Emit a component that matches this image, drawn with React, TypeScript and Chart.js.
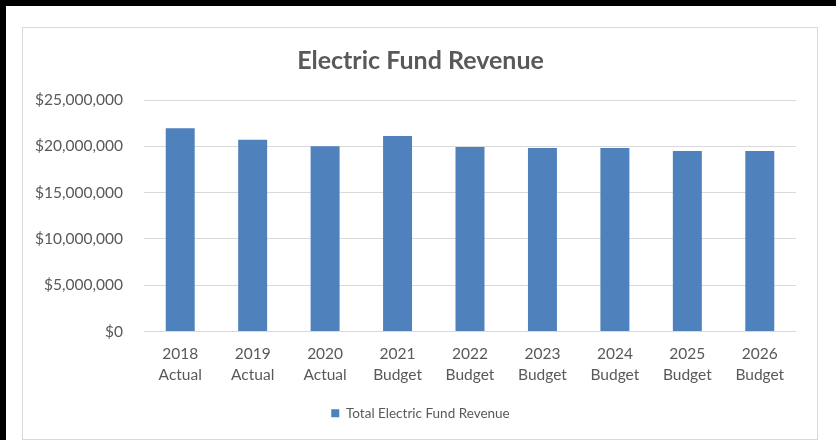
import React, { useEffect, useRef } from "react";
import { Chart, registerables } from "chart.js";

Chart.register(...registerables);

const categories: string[][] = [
  ["2018", "Actual"],
  ["2019", "Actual"],
  ["2020", "Actual"],
  ["2021", "Budget"],
  ["2022", "Budget"],
  ["2023", "Budget"],
  ["2024", "Budget"],
  ["2025", "Budget"],
  ["2026", "Budget"],
];
const revenue: number[] = [
  21960000, 20720000, 20000000, 21100000, 19930000, 19820000, 19820000, 19500000, 19500000,
];
const seriesName = "Total Electric Fund Revenue";
const chartTitle = "Electric Fund Revenue";
const yMin = 0;
const yMax = 25000000;
const yStep = 5000000;

const FONT = "Lato, 'Open Sans', sans-serif";
const TEXT = "#595959";

export default function App() {
  const ref = useRef<HTMLCanvasElement | null>(null);
  useEffect(() => {
    document.body.style.margin = "0";
    const canvas = ref.current;
    if (!canvas) return;
    const chart = new Chart(canvas, {
      type: "bar",
      data: {
        labels: categories,
        datasets: [
          {
            label: seriesName,
            data: revenue,
            backgroundColor: "#4f81bd",
            borderWidth: 0,
            categoryPercentage: 1,
            barPercentage: 0.4,
            yAxisID: "y",
          },
        ],
      },
      options: {
        responsive: false,
        animation: false,
        devicePixelRatio: 1,
        layout: { padding: { top: 27, left: 22, right: 17, bottom: 10 } },
        plugins: {
          title: {
            display: true,
            text: chartTitle,
            color: TEXT,
            font: { family: FONT, size: 25, weight: "bold", lineHeight: 1.2 },
            padding: { top: 19, bottom: 24 },
          },
          legend: {
            display: true,
            position: "bottom",
            labels: {
              color: TEXT,
              font: { family: FONT, size: 13.5 },
              boxWidth: 8,
              boxHeight: 8,
              padding: 10,
            },
          },
          tooltip: { enabled: false },
        },
        scales: {
          x: {
            grid: { display: false, drawTicks: false },
            border: { display: false },
            ticks: {
              color: TEXT,
              font: { family: FONT, size: 15.5, lineHeight: 1.35 },
              padding: 12,
              maxRotation: 0,
              autoSkip: false,
            },
            afterFit: (s: any) => {
              s.height = 65;
            },
          },
          y: {
            min: yMin,
            max: yMax,
            grid: { color: "#d9d9d9", lineWidth: 1, drawTicks: false },
            border: { display: false },
            ticks: {
              stepSize: yStep,
              color: TEXT,
              font: { family: FONT, size: 15.5 },
              padding: 21,
              callback: (v: any) => "$" + Number(v).toLocaleString("en-US"),
            },
            afterFit: (s: any) => {
              s.width = 122;
            },
          },
          spacer: {
            type: "linear",
            position: "right",
            min: yMin,
            max: yMax,
            grid: { display: false, drawTicks: false },
            border: { display: false },
            ticks: { display: false },
            afterFit: (s: any) => {
              s.width = 23;
            },
          },
        },
      },
    });
    return () => chart.destroy();
  }, []);

  return (
    <div style={{ position: "relative", width: 836, height: 440, background: "#fff", overflow: "hidden" }}>
      <div style={{ position: "absolute", left: 0, top: 0, width: 836, height: 6, background: "#000" }} />
      <div style={{ position: "absolute", left: 0, top: 0, width: 6, height: 440, background: "#000" }} />
      <div
        style={{
          position: "absolute",
          left: 22,
          top: 27,
          width: 796,
          height: 413,
          border: "1px solid #d9d9d9",
          boxSizing: "border-box",
        }}
      />
      <canvas ref={ref} width={836} height={440} style={{ position: "absolute", left: 0, top: 0 }} />
    </div>
  );
}
